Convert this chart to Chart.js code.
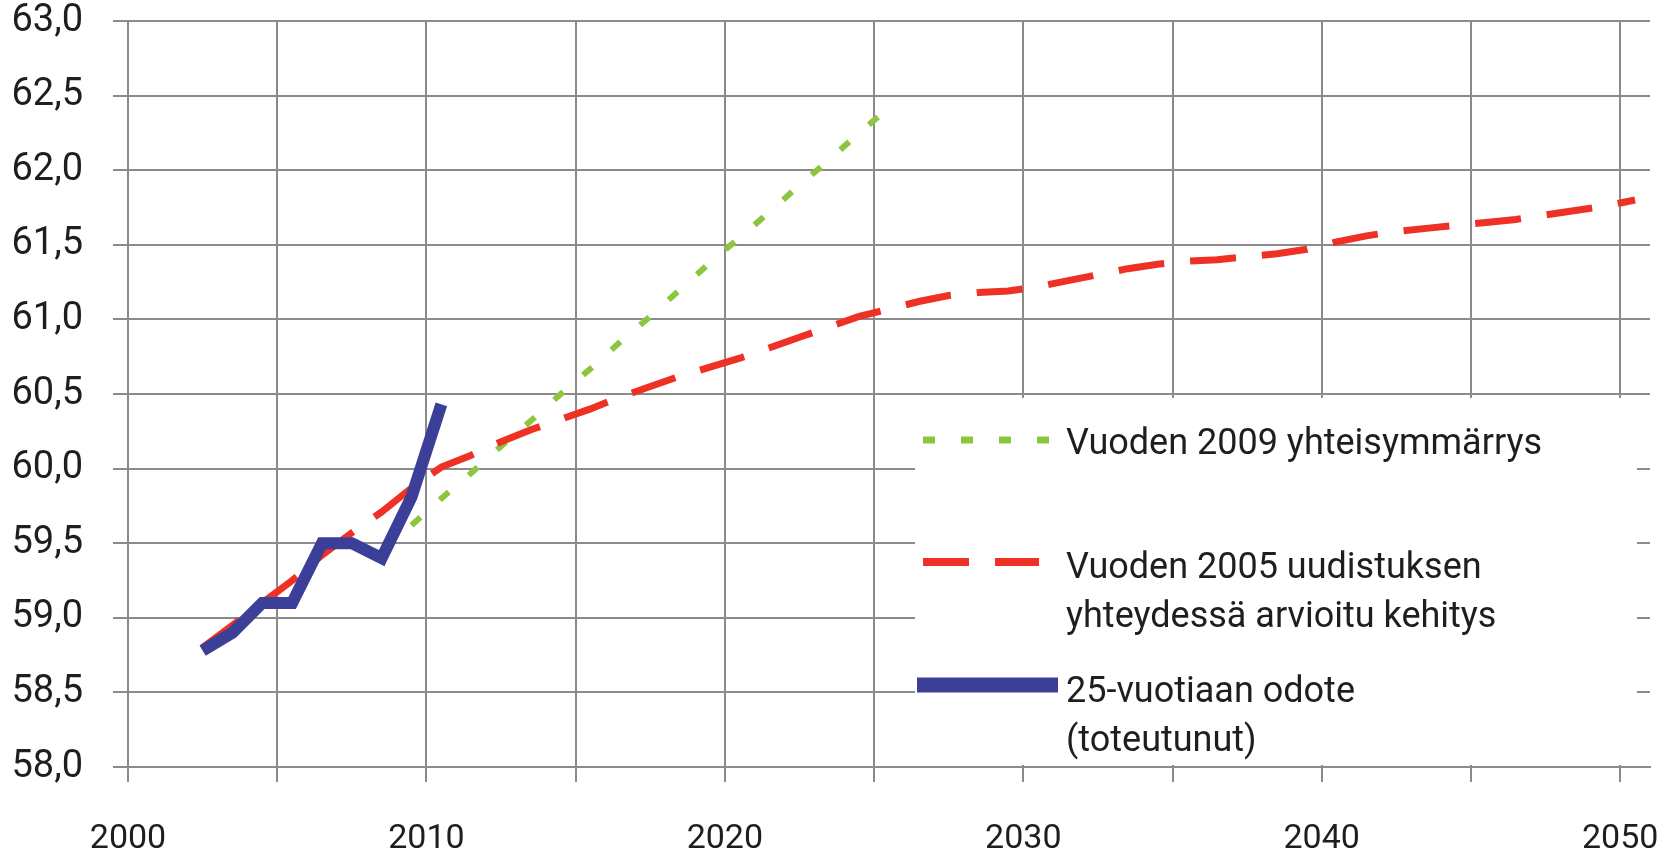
<!DOCTYPE html>
<html lang="fi">
<head>
  <meta charset="UTF-8" />
  <title>Eläkkeellesiirtymisiän odote</title>
  <script src="https://cdn.jsdelivr.net/npm/chart.js"></script>
  <style>
    html, body { margin: 0; padding: 0; background: #fff; }
    #chart { display: block; }
  </style>
</head>
<body>
  <canvas id="chart" width="1675" height="865"></canvas>

  <script>
    // toteutunut 25-vuotiaan odote
    const actualYears = [2002, 2003, 2004, 2005, 2006, 2007, 2008, 2009, 2010];
    const actualValues = [58.78, 58.9, 59.1, 59.1, 59.5, 59.5, 59.4, 59.81, 60.43];

    // vuoden 2005 uudistuksen yhteydessä arvioitu kehitys
    const reformYears = [2002, 2003, 2004, 2005, 2006, 2007, 2008, 2009, 2010, 2011,
      2012, 2013, 2014, 2015, 2016, 2017, 2018, 2019, 2020, 2021,
      2022, 2023, 2024, 2025, 2026, 2027, 2028, 2029, 2030, 2031,
      2032, 2033, 2034, 2035, 2036, 2037, 2038, 2039, 2040, 2041,
      2042, 2043, 2044, 2045, 2046, 2047, 2048, 2049, 2050];
    const reformValues = [58.8, 58.95, 59.1, 59.25, 59.42, 59.57, 59.71, 59.87, 60.01, 60.09,
      60.18, 60.26, 60.33, 60.4, 60.48, 60.55, 60.62, 60.68, 60.74, 60.81,
      60.88, 60.95, 61.02, 61.07, 61.12, 61.16, 61.18, 61.19, 61.22, 61.26,
      61.3, 61.34, 61.37, 61.39, 61.4, 61.42, 61.44, 61.47, 61.52, 61.56,
      61.59, 61.61, 61.63, 61.65, 61.67, 61.7, 61.73, 61.76, 61.8];

    // vuoden 2009 yhteisymmärrys
    const agreementYears = [2009, 2010, 2011, 2012, 2013, 2014, 2015, 2016, 2017,
      2018, 2019, 2020, 2021, 2022, 2023, 2024, 2025];
    const agreementValues = [59.62, 59.8, 59.97, 60.15, 60.32, 60.5, 60.67, 60.85, 61.02,
      61.2, 61.38, 61.55, 61.72, 61.9, 62.07, 62.25, 62.42];

    // gridlines every 5 years, labels every 10
    const xGridYears = [2000, 2005, 2010, 2015, 2020, 2025, 2030, 2035, 2040, 2045, 2050];
    const xLabelYears = [2000, 2010, 2020, 2030, 2040, 2050];

    const seriesLabels = [
      ['Vuoden 2009 yhteisymmärrys'],
      ['Vuoden 2005 uudistuksen', 'yhteydessä arvioitu kehitys'],
      ['25-vuotiaan odote', '(toteutunut)']
    ];

    // the original is an Excel category axis: each year sits in the middle of its slot
    const toPoints = (years, values) => years.map((yr, i) => ({ x: yr + 0.5, y: values[i] }));

    const GRID = '#8b8b8b';
    const TEXT = '#1e1e1e';
    const FONT = 'Roboto';

    // keep the plot where the original has it, whatever the label overflow is
    const noAutoPad = (scale) => {
      scale.paddingTop = 0;
      scale.paddingBottom = 0;
      scale.paddingLeft = 0;
      scale.paddingRight = 0;
    };

    // legend drawn inside the plot on a white box, like the original
    const boxLegend = {
      id: 'boxLegend',
      afterDatasetsDraw(chart) {
        const { ctx, chartArea: a, scales: { y } } = chart;
        const left = a.left + 787;
        const right = a.right - 13;
        const top = y.getPixelForValue(60.5) + 4;
        const bottom = a.bottom - 2;

        ctx.save();
        ctx.fillStyle = '#fff';
        ctx.fillRect(left, top, right - left, bottom - top);

        // [dataset index, sample y, sample x0, sample x1, first baseline]
        const rows = [
          [2, 42, 8, 135, 56],
          [1, 164, 8, 124, 180],
          [0, 287, 2, 143, 304]
        ];
        ctx.font = '36px ' + FONT;
        ctx.fillStyle = TEXT;
        ctx.textBaseline = 'alphabetic';
        rows.forEach(([di, sy, x0, x1, base], r) => {
          const ds = chart.data.datasets[di];
          ctx.save();
          ctx.strokeStyle = ds.borderColor;
          ctx.lineWidth = di === 0 ? 15 : ds.borderWidth + 1;
          ctx.setLineDash(ds.borderDash || []);
          ctx.beginPath();
          ctx.moveTo(left + x0, top + sy);
          ctx.lineTo(left + x1, top + sy);
          ctx.stroke();
          ctx.restore();
          seriesLabels[r].forEach((line, k) => {
            ctx.fillText(line, left + 151, top + base + k * 49);
          });
        });
        ctx.restore();
      }
    };

    new Chart(document.getElementById('chart'), {
      type: 'line',
      data: {
        datasets: [
          {
            label: seriesLabels[2].join(' '),
            data: toPoints(actualYears, actualValues),
            borderColor: '#3c3f98',
            borderWidth: 12,
            borderJoinStyle: 'miter'
          },
          {
            label: seriesLabels[1].join(' '),
            data: toPoints(reformYears, reformValues),
            borderColor: '#ee3124',
            borderWidth: 7,
            borderDash: [46, 26]
          },
          {
            label: seriesLabels[0][0],
            data: toPoints(agreementYears, agreementValues),
            borderColor: '#8cc63f',
            borderWidth: 6,
            borderDash: [12, 26]
          }
        ]
      },
      options: {
        responsive: false,
        animation: false,
        layout: { autoPadding: false, padding: { left: 13, right: 25, top: 21, bottom: 0 } },
        elements: { point: { radius: 0 }, line: { tension: 0, fill: false } },
        plugins: {
          legend: { display: false },
          tooltip: { enabled: false }
        },
        scales: {
          x: {
            type: 'linear',
            min: 2000,
            max: 2051,
            afterBuildTicks: (axis) => {
              axis.ticks = xGridYears.map(v => ({ value: v }));
            },
            afterFit: (scale) => { scale.height = 98; noAutoPad(scale); },
            ticks: {
              autoSkip: false,
              maxRotation: 0,
              padding: 37,
              color: TEXT,
              font: { family: FONT, size: 34 },
              callback: (v) => (xLabelYears.includes(v) ? String(v) : '')
            },
            grid: { color: GRID, lineWidth: 2, tickLength: 15 },
            border: { color: GRID, width: 2 }
          },
          y: {
            min: 58,
            max: 63,
            afterFit: (scale) => { scale.width = 115; noAutoPad(scale); },
            ticks: {
              stepSize: 0.5,
              padding: 30,
              color: TEXT,
              font: { family: FONT, size: 38 },
              callback: (v) => v.toFixed(1).replace('.', ',')
            },
            grid: { color: GRID, lineWidth: 2, tickLength: 15 },
            border: { color: GRID, width: 2 }
          }
        }
      },
      plugins: [boxLegend]
    });
  </script>
</body>
</html>
